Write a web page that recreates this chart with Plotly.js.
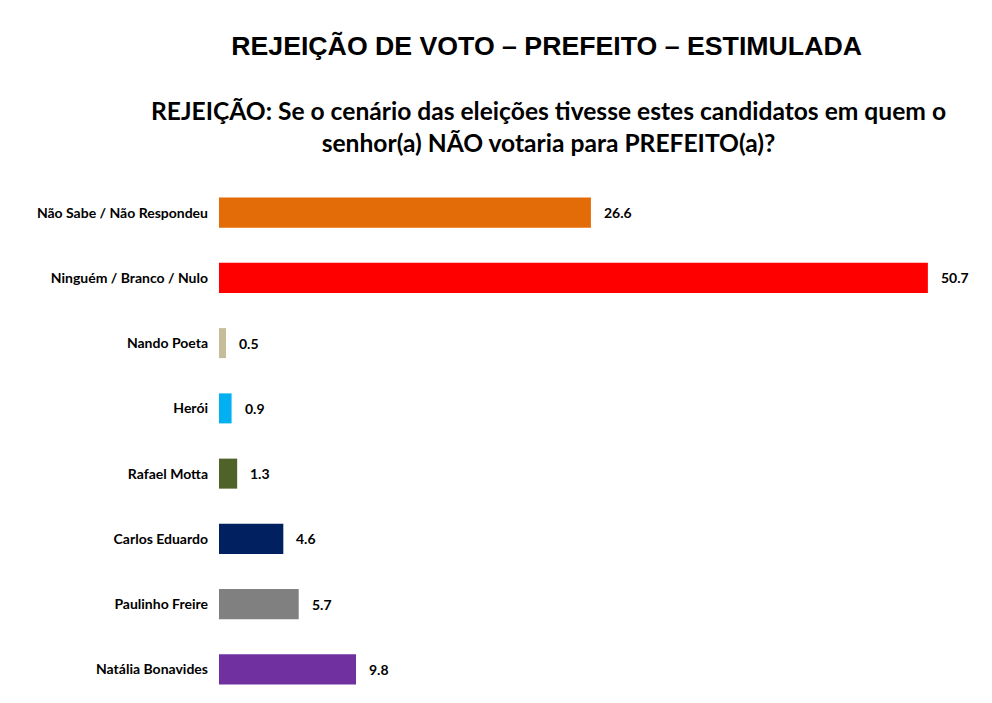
<!DOCTYPE html>
<html>
<head>
<meta charset="utf-8">
<script src="https://cdn.plot.ly/plotly-3.0.1.min.js"></script>
<style>
html,body{margin:0;padding:0;background:#fff;}
#chart{width:992px;height:703px;}
.plot .bars path{filter:drop-shadow(2px 3px 2px rgba(0,0,0,0.35));}
</style>
</head>
<body>
<div id="chart"></div>
<script>
const categories = ["Natália Bonavides","Paulinho Freire","Carlos Eduardo","Rafael Motta","Herói","Nando Poeta","Ninguém / Branco / Nulo","Não Sabe / Não Respondeu"];
const values = [9.8, 5.7, 4.6, 1.3, 0.9, 0.5, 50.7, 26.6];
const barColors = ["#7030A0","#808080","#002060","#4F6228","#00B0F0","#C4BD97","#FF0000","#E36C09"];
const mainTitle = "REJEIÇÃO DE VOTO – PREFEITO – ESTIMULADA";
const subTitle = "REJEIÇÃO: Se o cenário das eleições tivesse estes candidatos em quem o<br>senhor(a) NÃO votaria para PREFEITO(a)?";

const labelFont = {family:"Lato, 'Open Sans', sans-serif", size:14, color:"#000", weight:"bold"};

const trace = {
  type:"bar", orientation:"h",
  x: values, y: categories,
  marker:{color: barColors, line:{width:0}},
  width: 0.46,
  hoverinfo:"none"
};

const annotations = values.map((v,i)=>({
  x: v, y: categories[i], xref:"x", yref:"y",
  text: "<b>"+v.toFixed(1)+"</b>", showarrow:false,
  xanchor:"left", yanchor:"middle", xshift:11,
  font: labelFont
}));
annotations.push({
  xref:"paper", yref:"paper", x:0.429, y:1, yshift:54,
  xanchor:"center", yanchor:"middle",
  text:"<b>"+subTitle+"</b>", showarrow:false,
  font:{family:"Lato, 'Open Sans', sans-serif", size:24.6, color:"#000"},
  align:"center"
});

const layout = {
  width:992, height:703,
  paper_bgcolor:"#fff", plot_bgcolor:"#fff",
  margin:{l:219, r:4, t:180, b:1},
  title:{text:"<b>"+mainTitle+"</b>", x:0.551, xanchor:"center", y:0.935, yanchor:"middle",
         font:{family:"'Liberation Sans',Arial,sans-serif", size:26.7, color:"#000"}},
  xaxis:{range:[0,55], visible:false, fixedrange:true},
  yaxis:{categoryorder:"array", categoryarray:categories, showgrid:false, zeroline:false, showline:false,
         ticks:"", ticklabelstandoff:10, tickfont:labelFont, fixedrange:true},
  showlegend:false,
  annotations: annotations
};

Plotly.newPlot("chart",[trace],layout,{displayModeBar:false,staticPlot:true});
</script>
</body>
</html>
